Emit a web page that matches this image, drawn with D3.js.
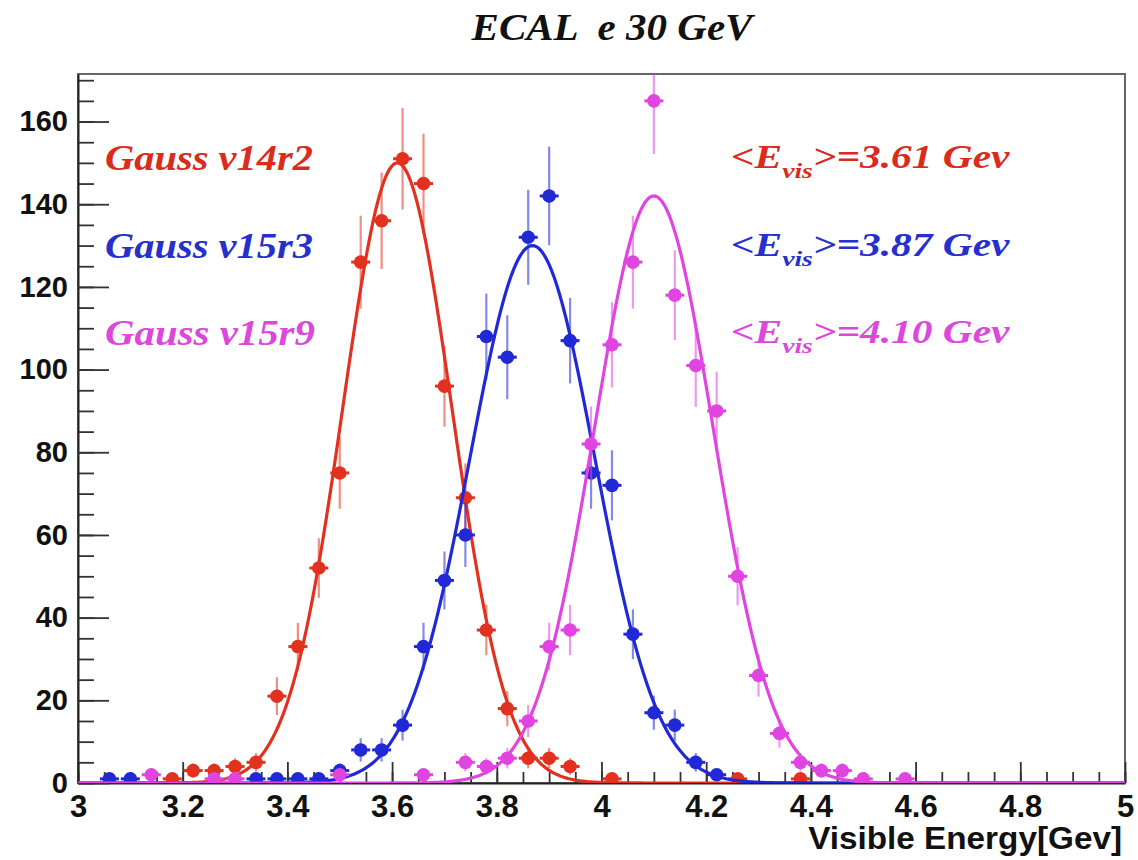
<!DOCTYPE html>
<html>
<head>
<meta charset="utf-8">
<script src="https://cdn.jsdelivr.net/npm/d3@7"></script>
<style>
  body { margin: 0; background: #fff; }
  svg { display: block; }
</style>
</head>
<body>
<svg id="chart"></svg>
<script>
// bin centres (GeV) and counts, only non-empty bins
const redE = [3.18, 3.22, 3.26, 3.30, 3.34, 3.38, 3.42, 3.46, 3.50, 3.54, 3.58, 3.62, 3.66, 3.70, 3.74, 3.78, 3.82, 3.86, 3.90, 3.94, 4.02, 4.26, 4.38];
const redN = [1, 3, 3, 4, 5, 21, 33, 52, 75, 126, 136, 151, 145, 96, 69, 37, 18, 6, 6, 4, 1, 1, 1];

const blueE = [3.06, 3.10, 3.34, 3.38, 3.42, 3.46, 3.50, 3.54, 3.58, 3.62, 3.66, 3.70, 3.74, 3.78, 3.82, 3.86, 3.90, 3.94, 3.98, 4.02, 4.06, 4.10, 4.14, 4.18, 4.22];
const blueN = [1, 1, 1, 1, 1, 1, 3, 8, 8, 14, 33, 49, 60, 108, 103, 132, 142, 107, 75, 72, 36, 17, 14, 5, 2];

const magE = [3.14, 3.26, 3.30, 3.50, 3.66, 3.74, 3.78, 3.82, 3.86, 3.90, 3.94, 3.98, 4.02, 4.06, 4.10, 4.14, 4.18, 4.22, 4.26, 4.30, 4.34, 4.38, 4.42, 4.46, 4.50, 4.58];
const magN = [2, 1, 1, 2, 2, 5, 4, 6, 15, 33, 37, 82, 106, 126, 165, 118, 101, 90, 50, 26, 12, 5, 3, 3, 1, 1];

// gaussian fit parameters: constant, mean, sigma
const fitConst = [150, 130, 142];
const fitMean = [3.61, 3.868, 4.10];
const fitSigma = [0.104, 0.119, 0.113];

const labels = ["Gauss v14r2", "Gauss v15r3", "Gauss v15r9"];
const meanLabels = ["3.61", "3.87", "4.10"];
const colors = ["#e2321f", "#2128d6", "#e045e2"];
const textColors = ["#d92c1c", "#2630cc", "#dc48dc"];

const xMajor = [3, 3.2, 3.4, 3.6, 3.8, 4, 4.2, 4.4, 4.6, 4.8, 5];
const yMajor = [0, 20, 40, 60, 80, 100, 120, 140, 160];

const width = 1138, height = 860;
const frame = { left: 78, top: 74, right: 1125, bottom: 783 };

const svg = d3.select("#chart").attr("width", width).attr("height", height);

const x = d3.scaleLinear().domain([3, 5]).range([frame.left, frame.right]);
const y = d3.scaleLinear().domain([0, 171.5]).range([frame.bottom, frame.top]);

svg.append("clipPath").attr("id", "clip")
  .append("rect")
  .attr("x", frame.left).attr("y", frame.top)
  .attr("width", frame.right - frame.left).attr("height", frame.bottom - frame.top);

// frame
svg.append("rect")
  .attr("x", frame.left).attr("y", frame.top)
  .attr("width", frame.right - frame.left).attr("height", frame.bottom - frame.top)
  .attr("fill", "none").attr("stroke", "#666").attr("stroke-width", 2);

const labelFont = "'Liberation Sans', Arial, Helvetica, sans-serif";
const serifFont = "'Liberation Serif', 'Times New Roman', serif";

// x axis, ticks pointing inwards
const xMinor = d3.range(3, 5.0001, 0.05);
svg.append("g")
  .attr("transform", `translate(0,${frame.bottom})`)
  .call(d3.axisBottom(x).tickValues(xMinor).tickSize(-11).tickSizeOuter(0).tickFormat(""))
  .call(g => g.select(".domain").remove())
  .selectAll("line").attr("stroke", "#333").attr("stroke-width", 1.8);

const gx = svg.append("g")
  .attr("transform", `translate(0,${frame.bottom})`)
  .call(d3.axisBottom(x).tickValues(xMajor).tickSize(-21).tickSizeOuter(0).tickPadding(12)
    .tickFormat(d3.format("")));
gx.select(".domain").attr("stroke", "#222").attr("stroke-width", 2);
gx.selectAll("line").attr("stroke", "#333").attr("stroke-width", 1.8);
gx.selectAll("text")
  .attr("font-family", labelFont).attr("font-weight", "bold")
  .attr("font-size", 31).attr("fill", "#111");

// y axis
const yMinor = d3.range(0, 171, 5);
svg.append("g")
  .attr("transform", `translate(${frame.left},0)`)
  .call(d3.axisLeft(y).tickValues(yMinor).tickSize(-16).tickSizeOuter(0).tickFormat(""))
  .call(g => g.select(".domain").remove())
  .selectAll("line").attr("stroke", "#333").attr("stroke-width", 1.8);

const gy = svg.append("g")
  .attr("transform", `translate(${frame.left},0)`)
  .call(d3.axisLeft(y).tickValues(yMajor).tickSize(-31).tickSizeOuter(0).tickPadding(10));
gy.select(".domain").attr("stroke", "#222").attr("stroke-width", 2);
gy.selectAll("line").attr("stroke", "#333").attr("stroke-width", 1.8);
gy.selectAll("text")
  .attr("font-family", labelFont).attr("font-weight", "bold")
  .attr("font-size", 29).attr("fill", "#111");

// stretch a text group horizontally to the width it has in the picture
function fitWidth(g, px, py, target) {
  const bb = g.node().getBBox();
  const s = target / bb.width;
  g.attr("transform", `translate(${px},${py}) scale(${s},1)`);
}

// axis title
const xt = svg.append("g");
xt.append("text")
  .attr("text-anchor", "end")
  .attr("font-family", labelFont).attr("font-weight", "bold")
  .attr("font-size", 31).attr("fill", "#111")
  .text("Visible Energy[Gev]");
fitWidth(xt, 1122, 849, 314);

// title
const tt = svg.append("g");
tt.append("text")
  .attr("text-anchor", "middle")
  .style("white-space", "pre")
  .attr("font-family", serifFont).attr("font-weight", "bold").attr("font-style", "italic")
  .attr("font-size", 38).attr("fill", "#111")
  .text("ECAL  e 30 GeV");
fitWidth(tt, 612, 40, 285);

// series
const series = [
  { e: redE, n: redN },
  { e: blueE, n: blueN },
  { e: magE, n: magN }
];

const plot = svg.append("g").attr("clip-path", "url(#clip)");
const line = d3.line().x(d => x(d[0])).y(d => y(d[1]));
const xs = d3.range(3, 5.0001, 0.004);

series.forEach((s, i) => {
  const pts = s.e.map((e, k) => ({ e: e, n: s.n[k] }));
  const g = plot.append("g");

  // vertical error bars (poisson)
  g.selectAll("line.err")
    .data(pts).join("line")
    .attr("class", "err")
    .attr("x1", d => x(d.e)).attr("x2", d => x(d.e))
    .attr("y1", d => y(d.n + Math.sqrt(d.n)))
    .attr("y2", d => y(Math.max(0, d.n - Math.sqrt(d.n))))
    .attr("stroke", colors[i]).attr("stroke-opacity", 0.55).attr("stroke-width", 2.2);

  // short horizontal bars
  g.selectAll("line.xerr")
    .data(pts).join("line")
    .attr("class", "xerr")
    .attr("x1", d => x(d.e) - 9.5).attr("x2", d => x(d.e) + 9.5)
    .attr("y1", d => y(d.n)).attr("y2", d => y(d.n))
    .attr("stroke", colors[i]).attr("stroke-width", 3);

  g.selectAll("circle")
    .data(pts).join("circle")
    .attr("cx", d => x(d.e)).attr("cy", d => y(d.n))
    .attr("r", 6.8)
    .attr("fill", colors[i]);

  // gaussian fit
  const curve = xs.map(v => [v, fitConst[i] * Math.exp(-0.5 * Math.pow((v - fitMean[i]) / fitSigma[i], 2))]);
  g.append("path")
    .datum(curve)
    .attr("d", line)
    .attr("fill", "none")
    .attr("stroke", colors[i])
    .attr("stroke-width", 3.2);
});

// legend texts on the left
const legY = [170, 258, 345];
const legW = [208, 208, 210];
labels.forEach((t, i) => {
  const g = svg.append("g");
  g.append("text")
    .attr("font-family", serifFont).attr("font-weight", "bold").attr("font-style", "italic")
    .attr("font-size", 35).attr("fill", textColors[i])
    .text(t);
  fitWidth(g, 105, legY[i], legW[i]);
});

// mean values on the right
meanLabels.forEach((m, i) => {
  const g = svg.append("g");
  const t = g.append("text")
    .attr("font-family", serifFont).attr("font-weight", "bold").attr("font-style", "italic")
    .attr("font-size", 33).attr("fill", textColors[i]);
  t.append("tspan").text("<E");
  t.append("tspan").attr("font-size", 22).attr("dy", 10).text("vis");
  t.append("tspan").attr("dy", -10).text(">=" + m + " Gev");
  fitWidth(g, 731, legY[i] - 2, 279);
});
</script>
</body>
</html>
